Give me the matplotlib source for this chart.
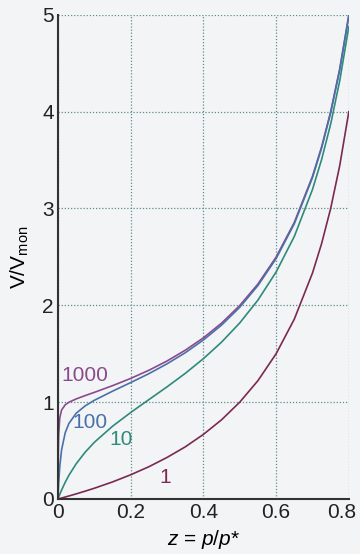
import matplotlib
matplotlib.use("Agg")
from matplotlib import pyplot as plt
from matplotlib.transforms import ScaledTranslation

plt.rcParams['font.family'] = ['Liberation Sans', 'DejaVu Sans']
plt.rcParams['mathtext.fontset'] = 'custom'
plt.rcParams['mathtext.rm'] = 'Liberation Sans'
plt.rcParams['mathtext.it'] = 'Liberation Sans:italic'

# relative pressure z = p/p*
z = [0, 0.001, 0.002, 0.005, 0.01, 0.02, 0.03, 0.05, 0.075, 0.1, 0.15, 0.2,
     0.25, 0.3, 0.35, 0.4, 0.45, 0.5, 0.55, 0.6, 0.65, 0.7, 0.725, 0.75,
     0.775, 0.8]

# V/Vmon, one list per c value
v_1000 = [0, 0.50, 0.668, 0.838, 0.919, 0.973, 0.999, 1.033, 1.068, 1.101,
          1.170, 1.245, 1.329, 1.425, 1.536, 1.664, 1.816, 1.998, 2.220,
          2.498, 2.856, 3.332, 3.635, 3.999, 4.443, 4.999]
v_100 = [0, 0.091, 0.167, 0.336, 0.508, 0.685, 0.779, 0.885, 0.962, 1.019,
         1.113, 1.202, 1.294, 1.396, 1.510, 1.642, 1.796, 1.980, 2.204,
         2.483, 2.842, 3.319, 3.623, 3.987, 4.431, 4.988]
v_10 = [0, 0.0099, 0.0197, 0.0481, 0.0927, 0.173, 0.244, 0.363, 0.484, 0.585,
        0.751, 0.893, 1.026, 1.158, 1.297, 1.449, 1.620, 1.818, 2.054,
        2.344, 2.711, 3.196, 3.504, 3.871, 4.320, 4.878]
v_1 = [0, 0.001, 0.002, 0.005, 0.0101, 0.0204, 0.0309, 0.0526, 0.0811, 0.111,
       0.176, 0.25, 0.333, 0.429, 0.538, 0.667, 0.818, 1.0, 1.222,
       1.5, 1.857, 2.333, 2.636, 3.0, 3.444, 4.0]

labels = ["1000", "100", "10", "1"]
colors = ["#8a4a8c", "#4a70a8", "#2e8a7c", "#7a2a52"]
label_pos = [(0.074, 1.28), (0.088, 0.79), (0.173, 0.61), (0.294, 0.22)]

fig = plt.figure(figsize=(3.6, 5.54), dpi=100)
fig.patch.set_facecolor('#f3f4f6')
ax = fig.add_axes([0.161, 0.0993, 0.808, 0.874])
ax.set_facecolor('#f3f4f6')

for v, lab, col, pos in zip([v_1000, v_100, v_10, v_1], labels, colors, label_pos):
    ax.plot(z, v, color=col, lw=1.2)
    ax.text(pos[0], pos[1], lab, color=col, fontsize=15, ha='center', va='center')

ax.set_xlim(0, 0.8)
ax.set_ylim(0, 5)
ax.set_xticks([0, 0.2, 0.4, 0.6, 0.8], labels=["0", "0.2", "0.4", "0.6", "0.8"])
ax.set_yticks([0, 1, 2, 3, 4, 5])
ax.tick_params(length=0, labelsize=15, colors='#222222', pad=3)

# last x label sits a bit left so it stays inside the figure
last = ax.get_xticklabels()[-1]
last.set_transform(last.get_transform() + ScaledTranslation(-5 / 72, 0, fig.dpi_scale_trans))

ax.grid(True, color='#5f8f86', linestyle=(0, (1, 1.5)), lw=0.9)
ax.set_axisbelow(True)

for s in ['top', 'right']:
    ax.spines[s].set_visible(False)
for s in ['left', 'bottom']:
    ax.spines[s].set_color('#333333')
    ax.spines[s].set_linewidth(1.5)

ax.set_ylabel(r"$\mathrm{V/V}_{\mathrm{mon}}$", fontsize=15, labelpad=8)
ax.set_xlabel(r"$z$ = $p/p$*", fontsize=15, labelpad=4)

plt.savefig('out.png', dpi=100, facecolor=fig.get_facecolor())
